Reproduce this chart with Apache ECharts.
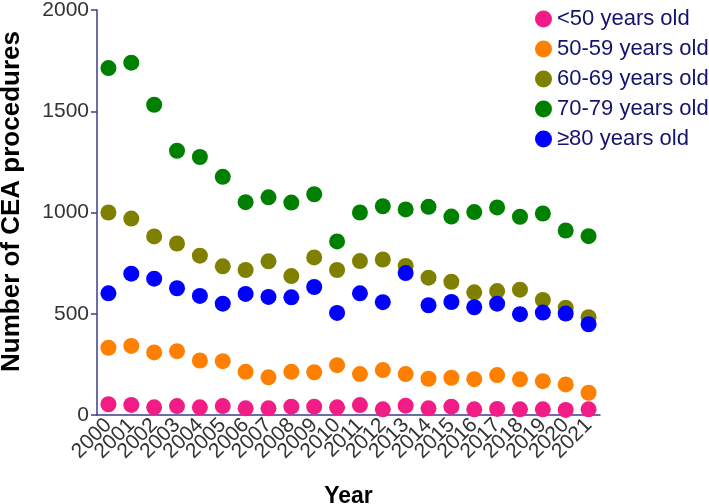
<!DOCTYPE html>
<html>
<head>
<meta charset="utf-8">
<script src="https://cdn.jsdelivr.net/npm/echarts@6/dist/echarts.min.js"></script>
<style>
  html, body { margin: 0; padding: 0; background: #fff; }
  #chart { width: 709px; height: 504px; }
</style>
</head>
<body>
<div id="chart"></div>
<script>
const years = ['2000', '2001', '2002', '2003', '2004', '2005', '2006', '2007', '2008', '2009', '2010',
    '2011', '2012', '2013', '2014', '2015', '2016', '2017', '2018', '2019', '2020', '2021'];
const seriesNames = ['<50 years old', '50-59 years old', '60-69 years old', '70-79 years old', '\u226580 years old'];
const under50 = [53, 50, 38, 44, 38, 44, 33, 33, 41, 41, 38, 49, 28, 46, 33, 41, 28, 30, 28, 28, 25, 28];
const age50to59 = [332, 341, 309, 315, 269, 266, 213, 186, 213, 211, 246, 202, 222, 202, 179, 184, 177, 197, 176, 167, 151, 110];
const age60to69 = [1000, 970, 882, 847, 787, 734, 716, 759, 686, 778, 716, 760, 768, 736, 678, 658, 606, 612, 619, 568, 530, 483];
const age70to79 = [1713, 1740, 1532, 1305, 1274, 1176, 1051, 1075, 1049, 1090, 857, 1000, 1031, 1015, 1028, 980, 1002, 1025, 979, 995, 911, 883];
const over80 = [601, 698, 673, 626, 588, 550, 598, 583, 581, 632, 504, 601, 557, 701, 542, 558, 532, 550, 498, 506, 501, 448];
const colors = ['#f21c86', '#ff8000', '#808000', '#008000', '#0000ff'];

const allData = [under50, age50to59, age60to69, age70to79, over80];
const axisColor = '#3c3c8c';

const myChart = echarts.init(document.getElementById('chart'));
const option = {
    animation: false,
    textStyle: { fontFamily: 'Liberation Sans, Arial, sans-serif' },
    grid: { left: 97, right: 109, top: 10, bottom: 89, containLabel: false, outerBoundsMode: 'none' },
    legend: {
        orient: 'vertical',
        left: 530,
        top: 3,
        icon: 'circle',
        itemWidth: 17,
        itemHeight: 17,
        itemGap: 8,
        data: seriesNames,
        textStyle: { color: '#14146e', fontSize: 22 }
    },
    xAxis: {
        type: 'category',
        data: years,
        name: 'Year',
        nameLocation: 'middle',
        nameGap: 70,
        nameTextStyle: { fontSize: 23, fontWeight: 'bold', color: '#000' },
        axisLine: { lineStyle: { color: axisColor, width: 1.5 } },
        axisTick: { alignWithLabel: true, length: 6, lineStyle: { color: axisColor, width: 1.5 } },
        axisLabel: { rotate: 45, fontSize: 21, color: '#333', margin: 7, interval: 0 }
    },
    yAxis: {
        type: 'value',
        min: 0,
        max: 2000,
        interval: 500,
        name: 'Number of CEA procedures',
        nameLocation: 'middle',
        nameGap: 72,
        nameTextStyle: { fontSize: 26, fontWeight: 'bold', color: '#000', padding: [0, 0, 0, 22] },
        splitLine: { show: false },
        axisLine: { show: true, lineStyle: { color: axisColor, width: 1.5 } },
        axisTick: { show: true, length: 6, lineStyle: { color: axisColor, width: 1.5 } },
        axisLabel: { fontSize: 21, color: '#333', margin: 8, formatter: v => String(v) }
    },
    series: seriesNames.map((name, i) => ({
        name: name,
        type: 'scatter',
        symbolSize: 16,
        itemStyle: { color: colors[i], opacity: 1 },
        data: allData[i]
    }))
};
myChart.setOption(option, true);
</script>
</body>
</html>
